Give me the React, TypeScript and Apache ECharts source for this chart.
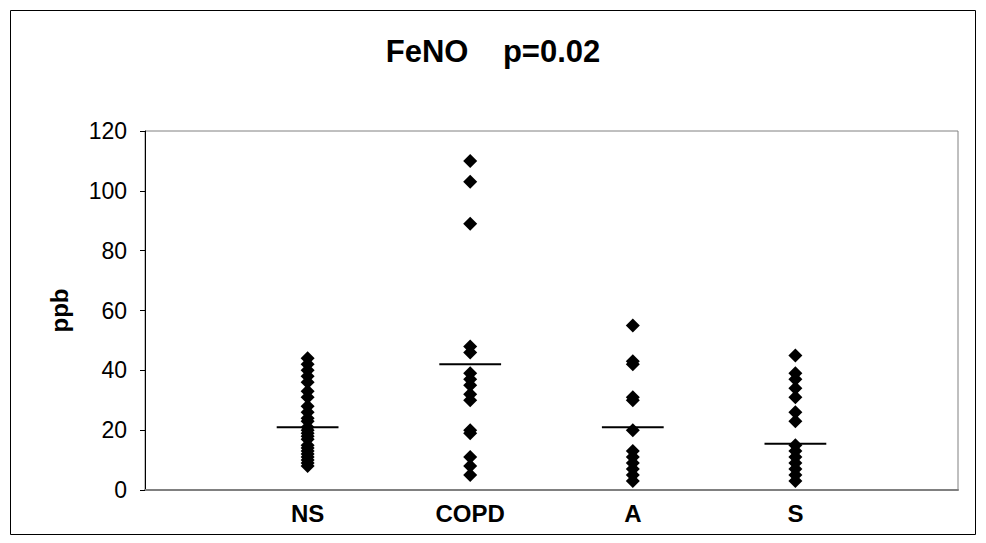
import React, { useEffect, useRef } from "react";
import * as echarts from "echarts";

const categories = ["NS", "COPD", "A", "S"];
const nsValues = [44, 42, 40, 38, 36, 33, 31, 28, 26, 24, 23, 21, 20, 19, 18, 17, 15, 14, 13, 12, 11, 10, 9, 8];
const copdValues = [110, 103, 89, 48, 46, 39, 37, 35, 32, 30, 20, 19, 11, 8, 5];
const aValues = [55, 43, 42, 31, 30, 20, 13, 11, 9, 7, 5, 3];
const sValues = [45, 39, 37, 34, 31, 26, 23, 15, 13, 11, 9, 7, 5, 3];
const lineValues = [21, 42, 21, 15.5];
const yTicks = [0, 20, 40, 60, 80, 100, 120];

const groups = [nsValues, copdValues, aValues, sValues];

export default function App() {
  const ref = useRef<HTMLDivElement>(null);
  useEffect(() => {
    if (!ref.current) return;
    const chart = echarts.init(ref.current, null, { renderer: "svg" });
    const points: number[][] = [];
    groups.forEach((g, i) => g.forEach((v) => points.push([i + 1, v])));
    const font = "'Liberation Sans', Arial, sans-serif";
    chart.setOption({
      animation: false,
      backgroundColor: "#ffffff",
      title: {
        text: "FeNO    p=0.02",
        left: "center",
        top: 31,
        textStyle: { fontFamily: font, fontWeight: "bold", fontSize: 31, color: "#000" },
      },
      graphic: [
        {
          type: "rect",
          shape: { x: 10.5, y: 10.5, width: 965, height: 524 },
          style: { fill: "none", stroke: "#000", lineWidth: 1 },
          silent: true,
        },
      ],
      grid: {
        left: 145,
        top: 131,
        width: 813,
        height: 359,
        show: true,
        borderColor: "#808080",
        borderWidth: 1,
        backgroundColor: "transparent",
      },
      xAxis: {
        type: "value",
        min: 0,
        max: 5,
        interval: 1,
        splitLine: { show: false },
        axisTick: { show: false },
        axisLine: { show: true, lineStyle: { color: "#808080", width: 2 } },
        axisLabel: {
          margin: 11,
          fontFamily: font,
          fontWeight: "bold",
          fontSize: 24,
          color: "#000",
          formatter: (v: number) => (v >= 1 && v <= 4 ? categories[v - 1] : ""),
        },
      },
      yAxis: {
        type: "value",
        min: yTicks[0],
        max: yTicks[yTicks.length - 1],
        interval: 20,
        name: "ppb",
        nameLocation: "middle",
        nameGap: 74,
        nameRotate: 90,
        nameTextStyle: { fontFamily: font, fontWeight: "bold", fontSize: 24, color: "#000" },
        splitLine: { show: false },
        axisLine: { show: true, lineStyle: { color: "#000", width: 1 } },
        axisTick: { show: true, length: 5, lineStyle: { color: "#000" } },
        axisLabel: { margin: 18, fontFamily: font, fontSize: 23, color: "#000" },
      },
      series: [
        {
          type: "scatter",
          symbol: "diamond",
          symbolSize: 14,
          itemStyle: { color: "#000", opacity: 1 },
          data: points,
          z: 3,
        },
        {
          type: "custom",
          data: lineValues.map((v, i) => [i + 1, v]),
          renderItem: (params: any, api: any) => {
            const x = api.value(0);
            const y = api.value(1);
            const p1 = api.coord([x - 0.19, y]);
            const p2 = api.coord([x + 0.19, y]);
            return {
              type: "line",
              shape: { x1: p1[0], y1: p1[1], x2: p2[0], y2: p2[1] },
              style: { stroke: "#000", lineWidth: 2 },
            };
          },
          z: 4,
        },
      ],
    });
    return () => chart.dispose();
  }, []);
  return (
    <div
      ref={ref}
      style={{ position: "fixed", left: 0, top: 0, width: 986, height: 543 }}
    />
  );
}
